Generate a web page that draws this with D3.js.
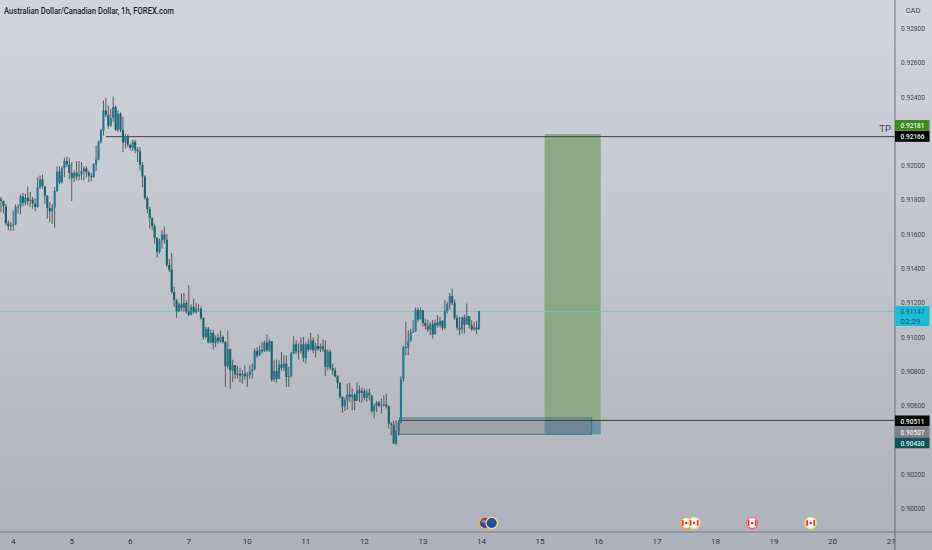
<!DOCTYPE html>
<html><head><meta charset="utf-8">
<script src="https://cdnjs.cloudflare.com/ajax/libs/d3/7.8.5/d3.min.js"></script>
<style>html,body{margin:0;padding:0;background:#c0c3cb;overflow:hidden}svg{display:block}</style>
</head><body><svg id="c" width="932" height="550"></svg>
<script>
const firstOpen = 91800;
const closes = [91791,91759,91662,91643,91651,91655,91756,91759,91818,91779,91810,91791,91798,91775,91756,91872,91917,91876,91822,91750,91730,91752,91849,91962,91899,91981,92024,92004,91954,91925,91956,91934,91946,91965,91981,91958,91938,91930,92004,92033,92136,92203,92319,92294,92230,92276,92339,92206,92300,92206,92133,92168,92119,92100,92136,92090,92080,92002,91934,91808,91744,91691,91643,91575,91493,91561,91596,91565,91419,91390,91260,
91211,91147,91188,91167,91196,91147,91128,91173,91143,91159,91163,91108,90998,91046,90967,91021,90963,90994,90972,90998,90967,90827,90926,90803,90834,90778,90784,90772,90784,90768,90778,90796,90809,90916,90889,90924,90914,90965,90920,90974,90749,90799,90753,90838,90817,90842,90764,90770,90900,90955,90914,90916,90955,90875,90955,90924,90978,90920,90945,90928,90945,90924,90823,90912,90817,90803,90768,90729,90648,90593,90628,90663,90648,90660,90625,90687,90671,90683,90642,90673,90656,90564,90595,90615,90597,90603,90605,90593,90492,90487,90376,90450,90498,90751,90939,
90936,90975,91024,91031,91154,91099,91154,91080,91061,91041,91072,91012,91082,91066,91092,91051,91150,91189,91237,91197,91109,91051,91041,91111,91070,91119,91066,91043,91053,91041,91147];
const highs = [91814,91794,91775,91678,91668,91736,91771,91771,91829,91837,91833,91876,91843,91814,91804,91930,91940,91946,91876,91824,91785,91775,91872,91993,91993,91993,92043,92051,92043,92018,91969,92024,92024,92018,91993,91993,91969,91954,92012,92115,92144,92212,92377,92393,92348,92329,92401,92348,92319,92309,92284,92183,92179,92125,92148,92148,92105,92105,92018,91940,91818,91756,91697,91658,91581,91571,91620,91643,91600,91454,91487,
91289,91221,91202,91250,91254,91211,91299,91188,91221,91196,91188,91176,91110,91056,91056,91040,91040,91007,91017,91036,91007,90974,91036,90930,90865,90819,90827,90819,90803,90832,90794,90832,90842,90930,90939,90949,90968,90978,91013,90988,90959,90862,90866,90862,90910,90891,90891,90823,90910,91002,90978,90959,90994,90998,90968,90988,91021,90994,90963,91013,90959,90982,90978,90924,90924,90842,90819,90774,90735,90652,90644,90726,90729,90696,90671,90735,90716,90702,90696,90691,90696,90658,90609,90625,90625,90638,90658,90667,90599,90502,90508,90512,90512,90768,90949,
91086,91037,91047,91096,91169,91169,91169,91125,91105,91099,91086,91096,91099,91125,91115,91096,91212,91202,91255,91280,91216,91125,91115,91119,91130,91193,91111,91096,91086,91092,91150];
const lows = [91726,91717,91649,91620,91616,91620,91649,91717,91713,91759,91765,91765,91756,91746,91732,91752,91862,91862,91775,91688,91668,91658,91635,91843,91888,91892,91930,91989,91915,91791,91901,91911,91911,91915,91911,91927,91901,91907,91927,91965,92028,92125,92173,92280,92212,92222,92251,92199,92193,92193,92076,92096,92105,92086,92082,92070,92018,91969,91872,91798,91717,91629,91620,91542,91460,91483,91513,91542,91406,91377,91250,
91173,91110,91143,91149,91143,91134,91118,91124,91134,91134,91143,91099,90982,90988,90959,90959,90924,90939,90959,90963,90959,90706,90813,90696,90735,90755,90755,90735,90726,90749,90706,90755,90755,90803,90877,90897,90900,90910,90910,90910,90735,90735,90729,90799,90803,90799,90706,90706,90761,90897,90897,90866,90900,90852,90842,90910,90920,90904,90877,90916,90910,90910,90768,90803,90807,90774,90761,90696,90638,90555,90566,90574,90619,90570,90570,90652,90619,90613,90628,90619,90628,90555,90522,90560,90586,90551,90590,90580,90463,90424,90372,90366,90424,90492,90735,
90891,90891,90969,91022,91027,91086,91105,91057,91041,91027,91008,90989,91037,91053,91053,91037,91041,91134,91158,91183,91096,91037,91008,91018,91018,91076,91047,91033,91033,91014,91047];

const dayLabels = ["4","5","6","7","10","11","12","13","14","15","16","17","18","19","20","21"];
const firstDayBar = 5, barsPerDay = 24;
const priceTicks = [0.928,0.926,0.924,0.920,0.918,0.916,0.914,0.912,0.910,0.908,0.906,0.902,0.900];
const target = 0.92181, entry = 0.90511, stop = 0.90430, zoneTop = 0.90525, tpLevel = 0.92166, lastPrice = 0.91147;
const toolBars = [222.9, 245.9], zoneBars = [163.3, 242.2], tpStartBar = 43;
const priceBadges = [
 {v:"0.92181", c:"#3f8a22", t:"#e8f3e0", y:125.5},
 {v:"0.92166", c:"#050505", t:"#f2f2f2", y:136.5},
 {v:"0.90511", c:"#050505", t:"#f2f2f2", y:421},
 {v:"0.90507", c:"#7f8189", t:"#eeeeee", y:432},
 {v:"0.90430", c:"#0f5656", t:"#d8ecec", y:443}];
const events = [{bar:198.5,cur:"AUD",ring:"#efa63f"},{bar:201.2,cur:"AUD",ring:"#f1df72"},{bar:281,cur:"CAD",ring:"#efa63f"},{bar:284.2,cur:"CAD",ring:"#f1df72"},{bar:308,cur:"CAD",ring:"#ee6d78"},{bar:332,cur:"CAD",ring:"#f1df72"}];

const W=932,H=550,axisX=895,axisY=532;
const svg=d3.select("#c");
const defs=svg.append("defs");
const g=defs.append("linearGradient").attr("id","bg").attr("x1",0).attr("x2",0).attr("y1",0).attr("y2",1);
g.append("stop").attr("offset",0).attr("stop-color","#d2d5dd");
g.append("stop").attr("offset",1).attr("stop-color","#aeb1b9");
svg.append("rect").attr("width",W).attr("height",H).attr("fill","url(#bg)");

const x=d3.scaleLinear().domain([0,196]).range([1,479]);
const y=d3.scaleLinear().domain([0.90,0.928]).range([508,28]);
const p=v=>v/1e5;
const bars=closes.map((c,i)=>({i,o:p(i?closes[i-1]:firstOpen),c:p(c),h:p(highs[i]),l:p(lows[i])}));

const marks=svg.append("g").style("filter","blur(0.4px)");
marks.append("rect").attr("x",x(toolBars[0])).attr("width",x(toolBars[1])-x(toolBars[0])).attr("y",y(target)).attr("height",y(entry)-y(target)).attr("fill","#8ca885");
marks.append("rect").attr("x",x(toolBars[0])).attr("width",x(toolBars[1])-x(toolBars[0])).attr("y",y(entry)).attr("height",y(stop)-y(entry)).attr("fill","#6f90a2");
marks.append("line").attr("x1",0).attr("x2",axisX).attr("y1",y(lastPrice)).attr("y2",y(lastPrice)).attr("stroke","#72c6c4").attr("stroke-width",0.9);
marks.append("rect").attr("x",x(zoneBars[0])).attr("width",x(zoneBars[1])-x(zoneBars[0])).attr("y",y(zoneTop)).attr("height",y(stop)-y(zoneTop)).attr("fill","#70727c").attr("fill-opacity",0.3).attr("stroke","#3d7b88").attr("stroke-width",1);
marks.append("line").attr("x1",x(tpStartBar)).attr("x2",axisX).attr("y1",y(tpLevel)).attr("y2",y(tpLevel)).attr("stroke","#3c3e44").attr("stroke-width",1);
marks.append("line").attr("x1",x(zoneBars[0])).attr("x2",axisX).attr("y1",y(entry)).attr("y2",y(entry)).attr("stroke","#3c3e44").attr("stroke-width",1);
const cg=marks.append("g");
cg.selectAll("line.w").data(bars).join("line").attr("class","w")
 .attr("x1",d=>x(d.i)).attr("x2",d=>x(d.i)).attr("y1",d=>y(d.h)).attr("y2",d=>y(d.l))
 .attr("stroke","#585b62").attr("stroke-width",1);
cg.selectAll("rect.b").data(bars).join("rect").attr("class","b")
 .attr("x",d=>x(d.i)-1.05).attr("width",2.1)
 .attr("y",d=>y(Math.max(d.o,d.c))).attr("height",d=>Math.max(1,Math.abs(y(d.o)-y(d.c))))
 .attr("fill",d=>d.c>=d.o?"#27798f":"#1b6468");
marks.append("line").attr("x1",axisX).attr("x2",axisX).attr("y1",0).attr("y2",H).attr("stroke","#6a6d75").attr("stroke-width",1);
marks.append("line").attr("x1",0).attr("x2",W).attr("y1",axisY).attr("y2",axisY).attr("stroke","#7c7f87").attr("stroke-width",1.1);

const ev=marks.selectAll("g.e").data(events).join("g").attr("class","e").attr("transform",d=>`translate(${x(d.bar)},523)`);
ev.append("circle").attr("r",5.7).attr("fill",d=>d.cur==="AUD"?"#1f4fa0":"#f7f3f2").attr("stroke",d=>d.ring).attr("stroke-width",1.3);
ev.filter(d=>d.cur==="CAD").each(function(){
 const s=d3.select(this);
 s.append("rect").attr("x",-4.4).attr("y",-2.8).attr("width",1.7).attr("height",5.6).attr("fill","#e2323f");
 s.append("rect").attr("x",2.7).attr("y",-2.8).attr("width",1.7).attr("height",5.6).attr("fill","#e2323f");
 s.append("circle").attr("r",1.2).attr("fill","#e2323f");
});
ev.filter((d,i)=>i===0).append("circle").attr("cx",-1.6).attr("cy",-1.8).attr("r",2).attr("fill","#d9616c");

const font="Roboto,sans-serif";
const fit=(sel,w)=>sel.attr("textLength",w).attr("lengthAdjust","spacingAndGlyphs");
fit(svg.append("text").attr("x",4).attr("y",14).attr("font-family",font).attr("font-size",8.6).attr("font-weight",500).attr("fill","#20232b").text("Australian Dollar/Canadian Dollar, 1h, FOREX.com"),170);
svg.append("text").attr("x",913).attr("y",13).attr("text-anchor","middle").attr("font-family",font).attr("font-size",7.5).attr("fill","#3f424a").text("CAD");
svg.append("text").attr("x",891).attr("y",132).attr("text-anchor","end").attr("font-family",font).attr("font-size",9.5).attr("fill","#3f424a").text("TP");

fit(svg.append("g").selectAll("text").data(priceTicks).join("text")
 .attr("x",901).attr("y",d=>y(d)+(d===0.912?2.6:3))
 .attr("font-family",font).attr("font-size",8).attr("fill","#44474f").text(d=>d3.format(".5f")(d)),24);
svg.append("g").selectAll("text").data(dayLabels).join("text")
 .attr("x",(d,i)=>x(firstDayBar+i*barsPerDay)).attr("y",544).attr("text-anchor","middle")
 .attr("font-family",font).attr("font-size",8).attr("fill","#33363e").text(d=>d);

const bd=svg.append("g").selectAll("g").data(priceBadges).join("g").attr("transform",d=>`translate(${axisX},${d.y-5.5})`);
bd.append("rect").attr("width",34.5).attr("height",10.8).attr("fill",d=>d.c);
fit(bd.append("text").attr("x",5.5).attr("y",8.3).attr("font-family",font).attr("font-size",8).attr("font-weight",500).attr("fill",d=>d.t).text(d=>d.v),24);
const lb=svg.append("g").attr("transform",`translate(${axisX},306)`);
lb.append("rect").attr("width",34.5).attr("height",20).attr("fill","#1bbad6");
fit(lb.append("text").attr("x",5.5).attr("y",8.3).attr("font-family",font).attr("font-size",8).attr("fill","#0d6273").text("0.91147"),24);
lb.append("text").attr("x",5.5).attr("y",17.9).attr("font-family",font).attr("font-size",8).attr("fill","#0d6273").text("02:29");
</script></body></html>
